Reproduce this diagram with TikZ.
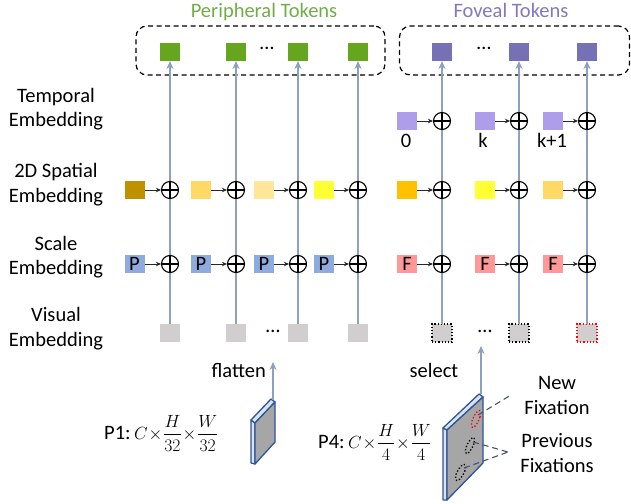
\documentclass[tikz,border=0pt]{standalone}
\usepackage{graphicx}
\usepackage{fontspec}
\setmainfont{Carlito}
\usetikzlibrary{arrows.meta}
\definecolor{pgreen}{HTML}{66A61E}
\definecolor{pgreentxt}{HTML}{70AD47}
\definecolor{fpurple}{HTML}{7671B4}
\definecolor{fpurpletxt}{HTML}{7F79C0}
\definecolor{tpurple}{HTML}{AE9DEB}
\definecolor{spA}{HTML}{BF9000}
\definecolor{spB}{HTML}{FFD966}
\definecolor{spC}{HTML}{FFE699}
\definecolor{spD}{HTML}{FFFF33}
\definecolor{spE}{HTML}{FFC000}
\definecolor{scP}{HTML}{8FAADC}
\definecolor{scF}{HTML}{FF9999}
\definecolor{vgray}{HTML}{D0CECE}
\definecolor{vline}{HTML}{8EA0BF}
\definecolor{plateblue}{HTML}{2F5597}
\definecolor{platefront}{HTML}{A6A6A6}
\definecolor{plateside}{HTML}{DAE3F3}
\definecolor{leader}{HTML}{44546A}
\tikzset{
  sq/.style={rectangle,minimum width=20pt,minimum height=18pt,inner sep=0pt,outer sep=0pt},
  oplus/.style={circle,draw,fill=white,minimum size=17pt,inner sep=0pt,line width=1.1pt,
    path picture={\draw[line width=1.1pt] (path picture bounding box.north)--(path picture bounding box.south)
      (path picture bounding box.west)--(path picture bounding box.east);}},
  vl/.style={draw=vline,line width=2.4pt,-{Stealth[length=8pt,width=7pt]}},
  smallarr/.style={draw=black!85,line width=0.9pt,-{Stealth[length=5pt,width=4.5pt]}},
  dbox/.style={draw,dashed,dash pattern=on 5pt off 3.5pt,line width=1.2pt,rounded corners=11pt,inner sep=0pt},
  lbl/.style={align=center,inner sep=0pt},
  dotsn/.style={inner sep=0pt},
  plate/.style={draw=plateblue,line width=1.3pt,line join=round},
  fix/.style={dotted,line width=1.3pt},
  lead/.style={draw=leader,dashed,dash pattern=on 6pt off 4pt,line width=1.1pt},
}
\begin{document}
\begin{tikzpicture}[x=1pt,y=-1pt,font=\fontsize{20.5}{24.5}\selectfont]
\useasboundingbox (0,0) rectangle (631,503);

% titles
\node[anchor=base,inner sep=0pt,text=pgreentxt] (ptitle) at (264,18) {Peripheral Tokens};
\node[anchor=base,inner sep=0pt,text=fpurpletxt] (ftitle) at (511,18) {Foveal Tokens};

% dashed boxes
\node[dbox,minimum width=249pt,minimum height=49pt] (pbox) at (260.5,50.5) {};
\node[dbox,minimum width=230pt,minimum height=49pt] (fbox) at (514.5,50.5) {};

% output tokens
\node[sq,fill=pgreen] (t1) at (170,52) {};
\node[sq,fill=pgreen] (t2) at (236,52) {};
\node[sq,fill=pgreen] (t3) at (298,52) {};
\node[sq,fill=pgreen] (t4) at (358,52) {};
\node[sq,fill=fpurple] (t5) at (442,52) {};
\node[sq,fill=fpurple] (t6) at (519,52) {};
\node[sq,fill=fpurple] (t7) at (587,52) {};
\node[dotsn] (tdots1) at (267,48) {…};
\node[dotsn] (tdots2) at (484,48) {…};

% visual embeddings
\node[sq,fill=vgray] (v1) at (170,333) {};
\node[sq,fill=vgray] (v2) at (236,333) {};
\node[sq,fill=vgray] (v3) at (298,333) {};
\node[sq,fill=vgray] (v4) at (358,333) {};
\node[sq,fill=vgray,draw=black,fix,line width=1.2pt] (v5) at (442,333) {};
\node[sq,fill=vgray,draw=black,fix,line width=1.2pt] (v6) at (519,333) {};
\node[sq,fill=vgray,draw=red,fix,line width=1.2pt] (v7) at (587,333) {};
\node[dotsn] (vdots1) at (273,331) {…};
\node[dotsn] (vdots2) at (485,331) {…};

% vertical lines
\foreach \i in {1,...,7} {\draw[vl] (v\i.north) -- (t\i.south);}

% left labels
\node[lbl] (ltemp) at (56,109) {Temporal\\Embedding};
\node[lbl] (lspat) at (56,184.5) {2D Spatial\\Embedding};
\node[lbl] (lscal) at (56,257) {Scale\\Embedding};
\node[lbl] (lvis) at (56,328.5) {Visual\\Embedding};

% temporal row
\node[sq,fill=tpurple] (te5) at (407,121) {};
\node[sq,fill=tpurple] (te6) at (485,121) {};
\node[sq,fill=tpurple] (te7) at (553,121) {};
\node[oplus] (pt5) at (442,121) {};
\node[oplus] (pt6) at (519,121) {};
\node[oplus] (pt7) at (587,121) {};
\draw[smallarr] (te5.east) -- (pt5.west);
\draw[smallarr] (te6.east) -- (pt6.west);
\draw[smallarr] (te7.east) -- (pt7.west);
\node[anchor=base,inner sep=0pt] (n0) at (406,147) {0};
\node[anchor=base,inner sep=0pt] (nk) at (483,147) {k};
\node[anchor=base,inner sep=0pt] (nk1) at (552,147) {k+1};

% spatial row
\node[sq,fill=spA] (sp1) at (134.5,190) {};
\node[sq,fill=spB] (sp2) at (201,190) {};
\node[sq,fill=spC] (sp3) at (264,190) {};
\node[sq,fill=spD] (sp4) at (324,190) {};
\node[sq,fill=spE] (sp5) at (407,190) {};
\node[sq,fill=spD] (sp6) at (484.5,190) {};
\node[sq,fill=spB] (sp7) at (553,190) {};
\node[oplus] (ps1) at (170,190) {};
\node[oplus] (ps2) at (236,190) {};
\node[oplus] (ps3) at (298,190) {};
\node[oplus] (ps4) at (358,190) {};
\node[oplus] (ps5) at (442,190) {};
\node[oplus] (ps6) at (519,190) {};
\node[oplus] (ps7) at (587,190) {};
\foreach \i in {1,...,7} {\draw[smallarr] (sp\i.east) -- (ps\i.west);}

% scale row
\node[sq,fill=scP] (sc1) at (134.5,264) {P};
\node[sq,fill=scP] (sc2) at (201,264) {P};
\node[sq,fill=scP] (sc3) at (264,264) {P};
\node[sq,fill=scP] (sc4) at (324,264) {P};
\node[sq,fill=scF] (sc5) at (407,264) {F};
\node[sq,fill=scF] (sc6) at (485,264) {F};
\node[sq,fill=scF] (sc7) at (553,264) {F};
\node[oplus] (pc1) at (170,264) {};
\node[oplus] (pc2) at (236,264) {};
\node[oplus] (pc3) at (298,264) {};
\node[oplus] (pc4) at (358,264) {};
\node[oplus] (pc5) at (442,264) {};
\node[oplus] (pc6) at (519,264) {};
\node[oplus] (pc7) at (587,264) {};
\foreach \i in {1,...,7} {\draw[smallarr] (sc\i.east) -- (pc\i.west);}

% P1 plate
\filldraw[plate,fill=plateside] (251,420) -- (255,423) -- (255,464) -- (251,463) -- cycle;
\filldraw[plate,fill=plateside] (251,420) -- (271,399) -- (275,402) -- (255,423) -- cycle;
\filldraw[plate,fill=platefront] (255,423) -- (275,402) -- (275,442) -- (255,464) -- cycle;
\coordinate (p1top) at (273,400);
\coordinate (p1arr) at (273,362);
\draw[vl,line width=2pt] (p1top) -- (p1arr);
\node[anchor=base east,inner sep=0pt] (flat) at (266,377) {flatten};
\node[anchor=base west,inner sep=0pt] (p1lbl) at (104,439) {P1:\,\scalebox{0.85}{$\displaystyle C\!\times\!\frac{H}{32}\!\times\!\frac{W}{32}$}};

% P4 plate
\filldraw[plate,fill=plateside] (443,428) -- (447,430) -- (447,500) -- (443,500) -- cycle;
\filldraw[plate,fill=plateside] (443,428) -- (479,394) -- (483,397) -- (447,430) -- cycle;
\filldraw[plate,fill=platefront] (447,430) -- (483,397) -- (483,463) -- (447,500) -- cycle;
\coordinate (p4top) at (481,394);
\coordinate (p4arr) at (481,346);
\draw[vl,line width=2pt] (p4top) -- (p4arr);
\node[anchor=base,inner sep=0pt] (sel) at (434,377) {select};
\node[anchor=base west,inner sep=0pt] (p4lbl) at (318,448) {P4:\,\scalebox{0.85}{$\displaystyle C\!\times\!\frac{H}{4}\!\times\!\frac{W}{4}$}};

% fixations
\draw[fix,red] plot[smooth cycle,tension=0.8] coordinates {(478.5,410.5) (480,417) (473.5,427.5) (472,421)};
\draw[fix,black] plot[smooth cycle,tension=0.8] coordinates {(472.5,437.5) (474,443.5) (467.5,453.5) (466,447.5)};
\draw[fix,black] plot[smooth cycle,tension=0.8] coordinates {(463,464.5) (465,470.5) (458,480.5) (456,474.5)};
\coordinate (fnew) at (478,415);
\coordinate (fprev1) at (473,442);
\coordinate (fprev2) at (464,468);
\coordinate (lnew) at (511,395);
\coordinate (lprev) at (508,452);
\node[lbl] (nf) at (557,395.5) {New\\Fixation};
\node[lbl] (pf) at (557,453) {Previous\\Fixations};
\draw[lead] (fnew) -- (lnew);
\draw[lead] (fprev1) -- (lprev);
\draw[lead] (fprev2) -- (lprev);
\end{tikzpicture}
\end{document}
